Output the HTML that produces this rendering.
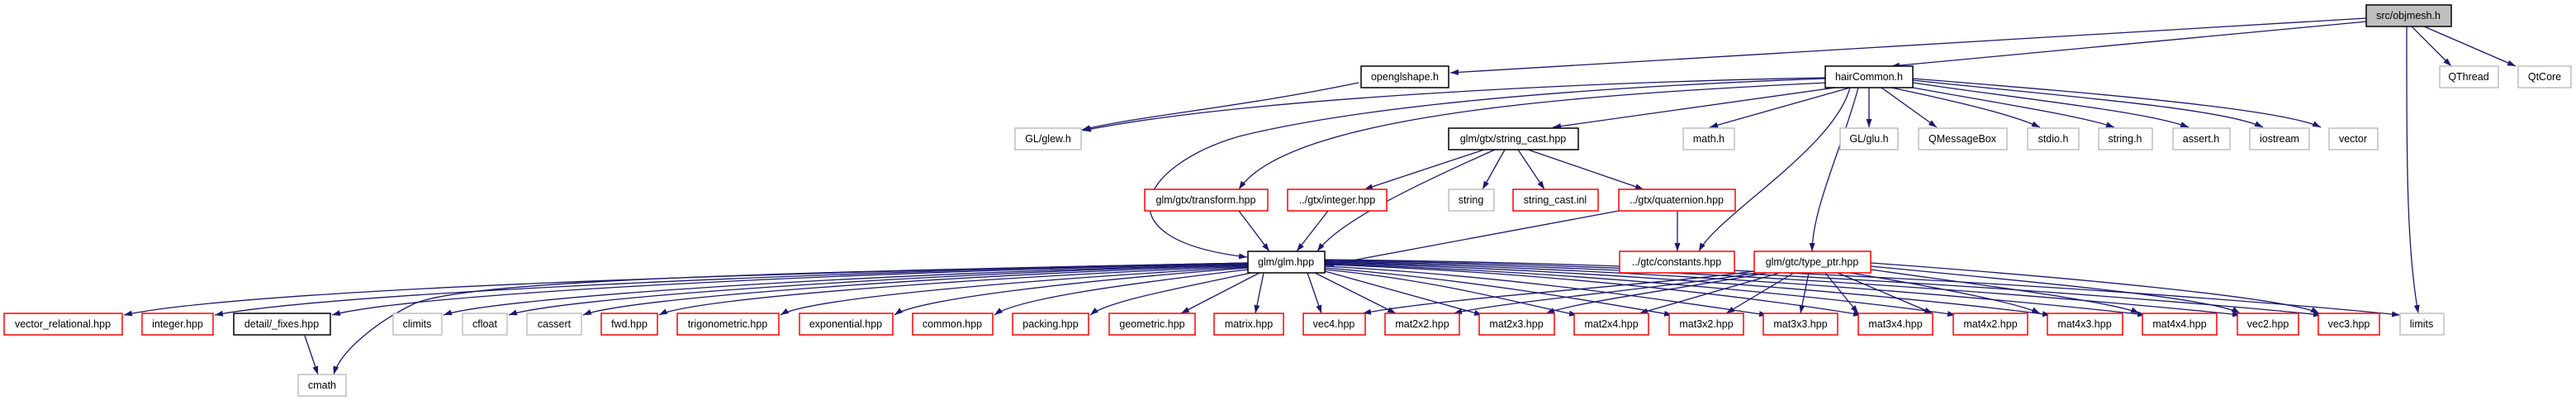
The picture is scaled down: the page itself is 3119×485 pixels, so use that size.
<!DOCTYPE html>
<html><head><meta charset="utf-8"><style>
html,body{margin:0;padding:0;background:#fff;width:3119px;height:485px;overflow:hidden}
svg text{font-family:"Liberation Sans",sans-serif;font-size:12.5px;fill:#000}
</style></head><body>
<svg width="3119" height="485" viewBox="0 0 3119 485" xmlns="http://www.w3.org/2000/svg">
<defs><marker id="a" markerUnits="userSpaceOnUse" markerWidth="11" markerHeight="8" refX="10" refY="3.5" orient="auto"><path d="M0,0 L10,3.5 L0,7 z" fill="#191970"/></marker></defs>
<g fill="none" stroke="#191970" stroke-width="1.3" marker-end="url(#a)">
<path d="M2865,22 L1756,88"/>
<path d="M2866,26 L2290,80"/>
<path d="M2920,32 L2968,80"/>
<path d="M2935,32 L3046,80"/>
<path d="M2914,32 C2914,200 2914,300 2928,379"/>
<path d="M1645,100 C1500,130 1380,140 1310,157"/>
<path d="M2210,94 C1900,100 1500,120 1311,158"/>
<path d="M2210,95 C1800,110 1600,140 1500,165 C1380,200 1330,290 1510,311"/>
<path d="M2212,100 C1900,115 1560,140 1500,229"/>
<path d="M2222,106 L1880,154"/>
<path d="M2240,106 L2070,154"/>
<path d="M2263,106 L2263,154"/>
<path d="M2278,106 L2345,154"/>
<path d="M2290,106 C2380,125 2440,140 2470,154"/>
<path d="M2305,104 C2420,125 2520,140 2560,154"/>
<path d="M2316,100 C2450,120 2600,135 2650,154"/>
<path d="M2316,97 C2480,115 2690,130 2740,154"/>
<path d="M2316,95 C2500,110 2760,130 2810,154"/>
<path d="M2240,106 C2220,180 2080,260 2057,304"/>
<path d="M2250,106 C2230,180 2195,250 2194,304"/>
<path d="M1797,181 L1652,229"/>
<path d="M1822,181 L1795,229"/>
<path d="M1838,181 L1870,229"/>
<path d="M1850,181 L1990,229"/>
<path d="M1810,181 C1700,230 1620,270 1595,304"/>
<path d="M1500,255 L1537,304"/>
<path d="M1608,255 L1570,304"/>
<path d="M1960,255 L1605,321"/>
<path d="M2031,255 L2031,304"/>
<!-- glm left -->
<path d="M1511,318 C900,330 300,350 150,381"/>
<path d="M1511,318 C950,330 400,355 260,381"/>
<path d="M1511,319 C1000,330 500,355 402,381"/>
<path d="M1511,320 C1050,330 600,360 537,381"/>
<path d="M1511,320 C1100,332 680,360 616,381"/>
<path d="M1511,321 C1150,333 760,360 706,381"/>
<path d="M1511,322 C1200,335 840,360 798,381"/>
<path d="M1511,323 C1250,338 980,360 945,381"/>
<path d="M1511,324 C1300,340 1110,362 1083,381"/>
<path d="M1511,326 C1350,345 1230,362 1204,381"/>
<path d="M1515,330 C1420,350 1340,365 1320,381"/>
<path d="M1525,330 L1430,379"/>
<path d="M1511,318 C900,330 560,340 500,368 C455,390 412,425 404,453"/>
<path d="M369,406 L385,453"/>
<!-- glm right -->
<path d="M1530,330 L1520,379"/>
<path d="M1583,330 L1600,379"/>
<path d="M1592,330 L1690,379"/>
<path d="M1604,328 L1795,381"/>
<path d="M1604,326 C1750,340 1850,370 1910,381"/>
<path d="M1604,324 C1800,340 1960,370 2025,381"/>
<path d="M1604,322 C1850,335 2060,370 2140,381"/>
<path d="M1604,320 C1900,330 2160,365 2254,381"/>
<path d="M1604,319 C1950,330 2260,365 2368,381"/>
<path d="M1604,318 C2000,328 2360,365 2483,381"/>
<path d="M1604,317 C2050,326 2460,365 2598,381"/>
<path d="M1604,316 C2100,324 2560,365 2713,381"/>
<path d="M1604,315 C2150,322 2650,365 2811,381"/>
<path d="M1604,314 C2200,320 2750,365 2906,381"/>
<!-- type_ptr -->
<path d="M2124,328 C2000,345 1750,360 1650,379"/>
<path d="M2128,330 C2000,350 1820,365 1760,379"/>
<path d="M2140,330 C2030,350 1910,365 1872,379"/>
<path d="M2155,330 L1985,379"/>
<path d="M2172,330 L2090,379"/>
<path d="M2190,330 L2180,379"/>
<path d="M2210,330 L2250,379"/>
<path d="M2225,330 L2340,379"/>
<path d="M2240,330 C2330,345 2440,365 2470,379"/>
<path d="M2265,326 C2400,345 2560,365 2590,379"/>
<path d="M2265,322 C2450,340 2680,360 2712,379"/>
<path d="M2265,318 C2500,335 2770,360 2808,379"/>
</g>
<g stroke-width="1.5">
<rect x="2865" y="6" width="103" height="26" fill="#bfbfbf" stroke="#000"/>
<rect x="1648" y="80" width="106" height="26" fill="#fff" stroke="#000"/>
<rect x="2210" y="80" width="106" height="26" fill="#fff" stroke="#000"/>
<rect x="1754" y="155" width="157" height="26" fill="#fff" stroke="#000"/>
<rect x="1511" y="304" width="93" height="26" fill="#fff" stroke="#000"/>
<rect x="283" y="379" width="117" height="26" fill="#fff" stroke="#000"/>
</g>
<g fill="#fff" stroke="#bfbfbf" stroke-width="1.5">
<rect x="2954" y="80" width="71" height="26"/><rect x="3049" y="80" width="64" height="26"/>
<rect x="1229" y="155" width="80" height="26"/><rect x="2038" y="155" width="62" height="26"/>
<rect x="2228" y="155" width="70" height="26"/><rect x="2323" y="155" width="107" height="26"/>
<rect x="2455" y="155" width="62" height="26"/><rect x="2541" y="155" width="65" height="26"/>
<rect x="2631" y="155" width="69" height="26"/><rect x="2724" y="155" width="72" height="26"/>
<rect x="2820" y="155" width="59" height="26"/><rect x="1754" y="229" width="55" height="26"/>
<rect x="476" y="379" width="59" height="26"/><rect x="560" y="379" width="54" height="26"/>
<rect x="638" y="379" width="66" height="26"/><rect x="2906" y="379" width="53" height="26"/>
<rect x="361" y="453" width="58" height="26"/>
</g>
<g fill="#fff" stroke="#ff0000" stroke-width="1.5">
<rect x="1386" y="229" width="149" height="26"/><rect x="1559" y="229" width="120" height="26"/>
<rect x="1832" y="229" width="103" height="26"/><rect x="1960" y="229" width="141" height="26"/>
<rect x="1961" y="304" width="139" height="26"/><rect x="2124" y="304" width="141" height="26"/>
<rect x="5" y="379" width="143" height="26"/><rect x="172" y="379" width="86" height="26"/>
<rect x="728" y="379" width="68" height="26"/><rect x="820" y="379" width="123" height="26"/>
<rect x="968" y="379" width="113" height="26"/><rect x="1105" y="379" width="97" height="26"/>
<rect x="1226" y="379" width="92" height="26"/><rect x="1343" y="379" width="104" height="26"/>
<rect x="1470" y="379" width="84" height="26"/><rect x="1578" y="379" width="75" height="26"/>
<rect x="1677" y="379" width="90" height="26"/><rect x="1791" y="379" width="91" height="26"/>
<rect x="1906" y="379" width="90" height="26"/><rect x="2021" y="379" width="90" height="26"/>
<rect x="2135" y="379" width="90" height="26"/><rect x="2250" y="379" width="90" height="26"/>
<rect x="2365" y="379" width="90" height="26"/><rect x="2479" y="379" width="91" height="26"/>
<rect x="2594" y="379" width="90" height="26"/><rect x="2709" y="379" width="74" height="26"/>
<rect x="2807" y="379" width="74" height="26"/>
</g>
<g text-anchor="middle">
<text x="2916" y="23">src/objmesh.h</text>
<text x="1701" y="97">openglshape.h</text><text x="2263" y="97">hairCommon.h</text>
<text x="2989" y="97">QThread</text><text x="3081" y="97">QtCore</text>
<text x="1269" y="172">GL/glew.h</text><text x="1832" y="172">glm/gtx/string_cast.hpp</text>
<text x="2069" y="172">math.h</text><text x="2263" y="172">GL/glu.h</text><text x="2376" y="172">QMessageBox</text>
<text x="2486" y="172">stdio.h</text><text x="2573" y="172">string.h</text><text x="2665" y="172">assert.h</text>
<text x="2760" y="172">iostream</text><text x="2849" y="172">vector</text>
<text x="1460" y="246">glm/gtx/transform.hpp</text><text x="1619" y="246">../gtx/integer.hpp</text>
<text x="1781" y="246">string</text><text x="1883" y="246">string_cast.inl</text><text x="2030" y="246">../gtx/quaternion.hpp</text>
<text x="1557" y="321">glm/glm.hpp</text><text x="2030" y="321">../gtc/constants.hpp</text><text x="2194" y="321">glm/gtc/type_ptr.hpp</text>
<text x="76" y="396">vector_relational.hpp</text><text x="215" y="396">integer.hpp</text><text x="341" y="396">detail/_fixes.hpp</text>
<text x="505" y="396">climits</text><text x="587" y="396">cfloat</text><text x="671" y="396">cassert</text>
<text x="762" y="396">fwd.hpp</text><text x="881" y="396">trigonometric.hpp</text><text x="1024" y="396">exponential.hpp</text>
<text x="1153" y="396">common.hpp</text><text x="1272" y="396">packing.hpp</text><text x="1395" y="396">geometric.hpp</text>
<text x="1512" y="396">matrix.hpp</text><text x="1615" y="396">vec4.hpp</text><text x="1722" y="396">mat2x2.hpp</text>
<text x="1836" y="396">mat2x3.hpp</text><text x="1951" y="396">mat2x4.hpp</text><text x="2066" y="396">mat3x2.hpp</text>
<text x="2180" y="396">mat3x3.hpp</text><text x="2295" y="396">mat3x4.hpp</text><text x="2410" y="396">mat4x2.hpp</text>
<text x="2524" y="396">mat4x3.hpp</text><text x="2639" y="396">mat4x4.hpp</text><text x="2746" y="396">vec2.hpp</text>
<text x="2844" y="396">vec3.hpp</text><text x="2932" y="396">limits</text>
<text x="390" y="470">cmath</text>
</g>
</svg>
</body></html>
